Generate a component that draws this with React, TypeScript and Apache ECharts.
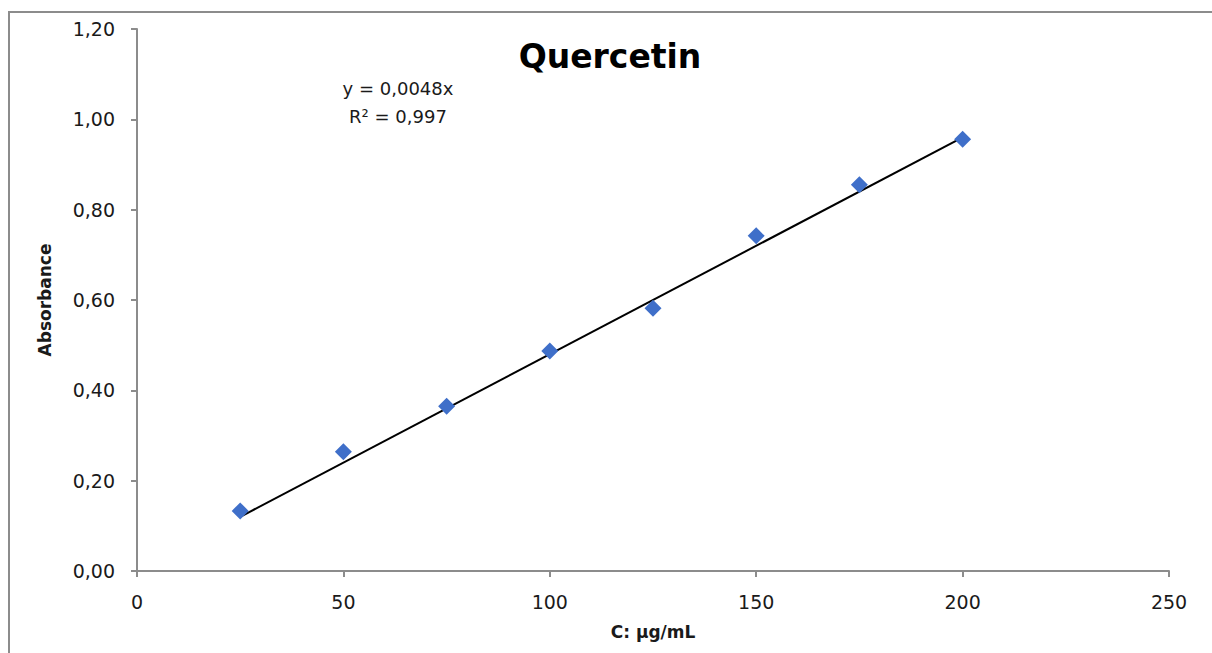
import React, { useEffect, useRef } from "react";
import * as echarts from "echarts";

const concentrations = [25, 50, 75, 100, 125, 150, 175, 200];
const absorbances = [0.133, 0.264, 0.365, 0.487, 0.582, 0.742, 0.855, 0.956];
const slope = 0.0048;
const rSquared = "0,997";
const titleText = "Quercetin";
const xName = "C: µg/mL";
const yName = "Absorbance";

const fmtComma = (v: number, d: number) => v.toFixed(d).replace(".", ",");

export default function App() {
  const ref = useRef<HTMLDivElement>(null);
  useEffect(() => {
    if (!ref.current) return;
    const chart = echarts.init(ref.current, undefined, { renderer: "svg" });
    const xMin = concentrations[0];
    const xMax = concentrations[concentrations.length - 1];
    const axisGray = "#8c8c8c";
    const font = "DejaVu Sans";
    chart.setOption({
      animation: false,
      backgroundColor: "#ffffff",
      textStyle: { fontFamily: font },
      grid: { left: 137, right: 43, top: 29, bottom: 82, containLabel: false },
      xAxis: {
        type: "value",
        min: 0,
        max: 250,
        interval: 50,
        name: xName,
        nameLocation: "middle",
        nameGap: 52,
        nameTextStyle: { fontFamily: font, fontWeight: "bold", fontSize: 17, color: "#1a1a1a" },
        axisLine: { show: true, onZero: false, lineStyle: { color: axisGray, width: 2 } },
        axisTick: { show: true, inside: false, length: 6, lineStyle: { color: axisGray, width: 2 } },
        axisLabel: { fontFamily: font, fontSize: 19, color: "#1a1a1a", margin: 21 },
        splitLine: { show: false },
      },
      yAxis: {
        type: "value",
        min: 0,
        max: 1.2,
        interval: 0.2,
        name: yName,
        nameLocation: "middle",
        nameRotate: 90,
        nameGap: 84,
        nameTextStyle: { fontFamily: font, fontWeight: "bold", fontSize: 17, color: "#1a1a1a" },
        axisLine: { show: true, lineStyle: { color: axisGray, width: 2 } },
        axisTick: { show: true, inside: false, length: 6, lineStyle: { color: axisGray, width: 2 } },
        axisLabel: {
          fontFamily: font,
          fontSize: 19,
          color: "#1a1a1a",
          margin: 22,
          formatter: (v: number) => fmtComma(v, 2),
        },
        splitLine: { show: false },
      },
      series: [
        {
          type: "line",
          name: "trend",
          data: [
            [xMin, xMin * slope],
            [xMax, xMax * slope],
          ],
          showSymbol: false,
          symbol: "none",
          lineStyle: { color: "#000000", width: 2 },
          z: 2,
        },
        {
          type: "scatter",
          name: "Quercetin",
          data: concentrations.map((c, i) => [c, absorbances[i]]),
          symbol: "diamond",
          symbolSize: [17, 17],
          itemStyle: { color: "#3f6fc9", opacity: 1 },
          z: 3,
        },
      ],
      graphic: [
        {
          type: "rect",
          silent: true,
          shape: { x: 9, y: 12, width: 1400, height: 800 },
          style: { fill: "none", stroke: axisGray, lineWidth: 2 },
          z: 0,
        },
        {
          type: "text",
          x: 610,
          y: 56,
          style: {
            text: titleText,
            font: `bold 33px "${font}"`,
            fill: "#000000",
            align: "center",
            verticalAlign: "middle",
          },
        },
        {
          type: "text",
          x: 398,
          y: 88,
          style: {
            text: `y = ${fmtComma(slope, 4)}x`,
            font: `18px "${font}"`,
            fill: "#1a1a1a",
            align: "center",
            verticalAlign: "middle",
          },
        },
        {
          type: "text",
          x: 398,
          y: 116,
          style: {
            text: `R² = ${rSquared}`,
            font: `18px "${font}"`,
            fill: "#1a1a1a",
            align: "center",
            verticalAlign: "middle",
          },
        },
      ],
    });
    return () => chart.dispose();
  }, []);
  return (
    <div
      ref={ref}
      style={{ position: "fixed", left: 0, top: 0, width: 1212, height: 653, background: "#fff" }}
    />
  );
}
